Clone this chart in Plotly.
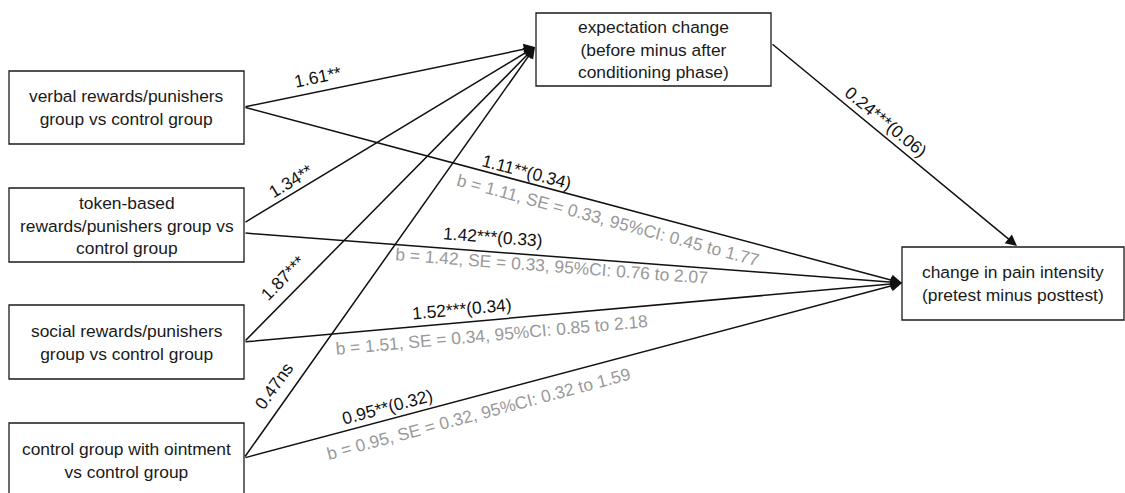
import plotly.graph_objects as go

# Path model: four group contrasts -> expectation change -> change in pain intensity
predictors = [
    "verbal rewards/punishers<br>group vs control group",
    "token-based<br>rewards/punishers group vs<br>control group",
    "social rewards/punishers<br>group vs control group",
    "control group with ointment<br>vs control group",
]
mediator = "expectation change<br>(before minus after<br>conditioning phase)"
outcome = "change in pain intensity<br>(pretest minus posttest)"

# a-paths (predictor -> mediator)
a_coef = ["1.61", "1.34", "1.87", "0.47"]
a_sig = ["**", "**", "***", "ns"]

# b-path (mediator -> outcome)
b_coef, b_sig, b_se = "0.24", "***", "0.06"

# direct paths (predictor -> outcome): coefficient, stars, SE
c_coef = ["1.11", "1.42", "1.52", "0.95"]
c_sig = ["**", "***", "***", "**"]
c_se = ["0.34", "0.33", "0.34", "0.32"]

# bootstrap summary for each direct path
boot_b = ["1.11", "1.42", "1.51", "0.95"]
boot_se = ["0.33", "0.33", "0.34", "0.32"]
boot_lo = ["0.45", "0.76", "0.85", "0.32"]
boot_hi = ["1.77", "2.07", "2.18", "1.59"]

# ---- layout geometry (pixel space) ----
W, H = 1125, 493
FONT = "Liberation Sans, Arial, sans-serif"
FS = 17.4
pred_boxes = [(9, 71, 244, 144), (9, 188, 244, 262), (9, 305, 244, 379), (9, 423, 244, 497)]
med_box = (536, 13, 771, 86)
out_box = (902, 247, 1124, 320)
a_start = [(244, 107), (244, 223), (244, 342), (244, 458)]
c_start = [(244, 107), (244, 233), (244, 342), (244, 458)]
a_end = (535, 47)
c_end = (902, 283)
b_start, b_end = (771, 43), (1017, 246)

a_lbl = [((318, 77), -12), ((291, 181), -31), ((283, 278), -45.5), ((274, 386), -54.7)]
c_lbl = [((527, 172), 15), ((493, 237), 4.3), ((462, 309), -5.1), ((387, 407), -14.9)]
boot_lbl = [((608, 220), 15), ((551, 266), 4.3), ((491, 335), -5.1), ((478, 414), -14.9)]
b_lbl = ((886, 122), 39.5)

fig = go.Figure()
shapes, annotations = [], []


def box(rect, text):
    x0, y0, x1, y1 = rect
    shapes.append(dict(type="rect", x0=x0, y0=y0, x1=x1, y1=y1, xref="x", yref="y",
                       line=dict(color="#1a1a1a", width=1.3), fillcolor="white", layer="above"))
    annotations.append(dict(x=(x0 + x1) / 2, y=(y0 + y1) / 2,
                            xref="x", yref="y", text=text, showarrow=False,
                            font=dict(family=FONT, size=FS, color="#1a1a1a"),
                            xanchor="center", yanchor="middle"))


def arrow(p0, p1):
    annotations.append(dict(x=p1[0], y=p1[1], ax=p0[0], ay=p0[1], xref="x", yref="y",
                            axref="x", ayref="y", text="", showarrow=True,
                            arrowhead=2, arrowsize=1.5, arrowwidth=1.5, arrowcolor="#111111",
                            standoff=0, startstandoff=0))


def label(pos, angle, text, color="#111111"):
    annotations.append(dict(x=pos[0], y=pos[1], xref="x", yref="y", text=text,
                            showarrow=False, textangle=angle,
                            font=dict(family=FONT, size=FS, color=color),
                            xanchor="center", yanchor="middle"))


for i in range(4):
    arrow(a_start[i], a_end)
    arrow(c_start[i], c_end)
arrow(b_start, b_end)

for rect, text in zip(pred_boxes, predictors):
    box(rect, text)
box(med_box, mediator)
box(out_box, outcome)

for i in range(4):
    label(*a_lbl[i], f"{a_coef[i]}{a_sig[i]}")
    label(*c_lbl[i], f"{c_coef[i]}{c_sig[i]}({c_se[i]})")
    label(*boot_lbl[i],
          f"b = {boot_b[i]}, SE = {boot_se[i]}, 95%CI: {boot_lo[i]} to {boot_hi[i]}",
          color="#999999")
label(*b_lbl, f"{b_coef}{b_sig}({b_se})")

fig.update_layout(
    width=W, height=H,
    margin=dict(l=0, r=0, t=0, b=0),
    paper_bgcolor="white", plot_bgcolor="white",
    xaxis=dict(range=[0, W], visible=False, fixedrange=True),
    yaxis=dict(range=[H, 0], visible=False, fixedrange=True),
    shapes=shapes, annotations=annotations,
    showlegend=False,
)
fig.write_html("out.html")
